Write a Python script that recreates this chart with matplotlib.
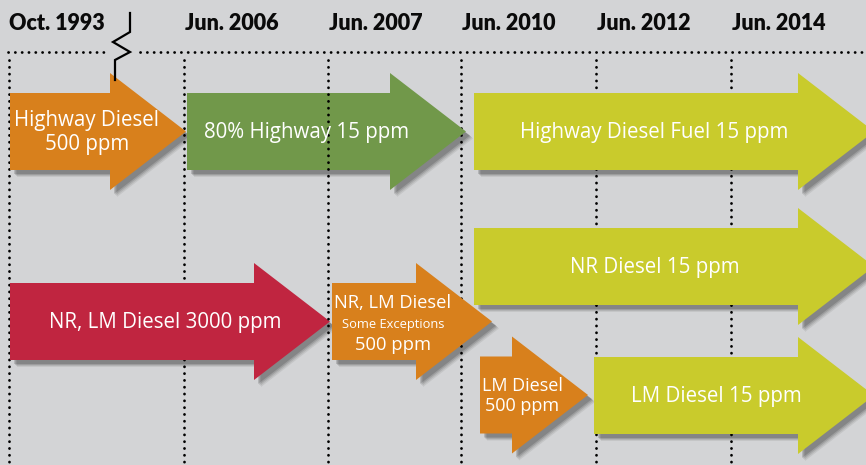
import matplotlib
matplotlib.use("Agg")
import matplotlib.pyplot as plt
from matplotlib.patches import Polygon

# -- Timeline data ---------------------------------------------------------
milestones = ["Oct. 1993", "Jun. 2006", "Jun. 2007", "Jun. 2010", "Jun. 2012", "Jun. 2014"]
milestone_x = [9, 184, 328, 461, 596, 731]

arrow_labels = ["Highway Diesel\n500 ppm", "80% Highway 15 ppm",
                "Highway Diesel Fuel 15 ppm", "NR Diesel 15 ppm",
                "NR, LM Diesel 3000 ppm", None,
                "LM Diesel\n500 ppm", "LM Diesel 15 ppm"]
arrow_x0 = [10, 187, 474, 474, 10, 332, 480, 594]
arrow_x1 = [186, 466, 874, 874, 330, 492, 588, 874]
arrow_yc = [131.5, 131.5, 131.5, 266.5, 321.5, 321.5, 395, 395.5]
arrow_col = ["#D8801C", "#71984A", "#C9CB2C", "#C9CB2C",
             "#C02540", "#D8801C", "#D8801C", "#C9CB2C"]
label_x = [87, 307, 654, 655, 165, None, 522, 716]
label_fs = [14.8, 14.8, 14.8, 14.8, 14.8, None, 13, 14.8]

BG = "#D3D4D6"
BODY_H, HEAD_H, HEAD_L = 77, 117, 76

fig = plt.figure(figsize=(8.66, 4.65), dpi=100)
fig.patch.set_facecolor(BG)
ax = fig.add_axes([0, 0, 1, 1])
ax.set_xlim(0, 866)
ax.set_ylim(465, 0)
ax.axis("off")
ax.set_facecolor(BG)

DOT = dict(color="black", lw=2.0, ls=(0, (0.05, 2.4)), dash_capstyle="round")

# -- Dotted grid ------------------------------------------------------------
ax.plot([8, 106], [52, 52], zorder=1, **DOT)
ax.plot([140, 866], [52, 52], zorder=1, **DOT)
for i, x in enumerate(milestone_x):
    ax.plot([x, x], [60, 465], zorder=6 if i == 2 else 1, **DOT)
    ax.text(x + (1 if i else 0), 24, milestones[i], ha="left", va="center",
            fontsize=15.5, fontweight="heavy", family="Lato", color="#0a0a0a")

# -- Break mark -------------------------------------------------------------
ax.plot([130, 130, 113, 130, 115, 115], [13, 32, 42, 52, 60, 80],
        color="black", lw=1.6, zorder=8, solid_joinstyle="miter")


def block_arrow(x0, x1, yc, color):
    xb = x1 - HEAD_L
    pts = [(x0, yc - BODY_H/2), (xb, yc - BODY_H/2), (xb, yc - HEAD_H/2),
           (x1, yc), (xb, yc + HEAD_H/2), (xb, yc + BODY_H/2),
           (x0, yc + BODY_H/2)]
    for k, a in ((7, 0.07), (6, 0.09), (5, 0.12), (4, 0.15)):
        sh = [(px + k, py + k) for px, py in pts]
        ax.add_patch(Polygon(sh, closed=True, fc="black", ec="none",
                             alpha=a, zorder=3))
    ax.add_patch(Polygon(pts, closed=True, fc=color, ec="none", zorder=4))


for i in range(len(arrow_x0)):
    block_arrow(arrow_x0[i], arrow_x1[i], arrow_yc[i], arrow_col[i])
    if arrow_labels[i]:
        ax.text(label_x[i], arrow_yc[i] + 1, arrow_labels[i], ha="center",
                va="center", fontsize=label_fs[i], family="Open Sans",
                color="white", linespacing=1.2, zorder=7)

# three-line label on the small NR, LM arrow
ax.text(393, 303, "NR, LM Diesel", ha="center", va="center", fontsize=13.2,
        family="Open Sans", color="white", zorder=7)
ax.text(393, 324, "Some Exceptions", ha="center", va="center", fontsize=9.3,
        family="Open Sans", color="white", zorder=7)
ax.text(393, 345, "500 ppm", ha="center", va="center", fontsize=13.2,
        family="Open Sans", color="white", zorder=7)

fig.savefig("out.png", dpi=100, facecolor=BG)
